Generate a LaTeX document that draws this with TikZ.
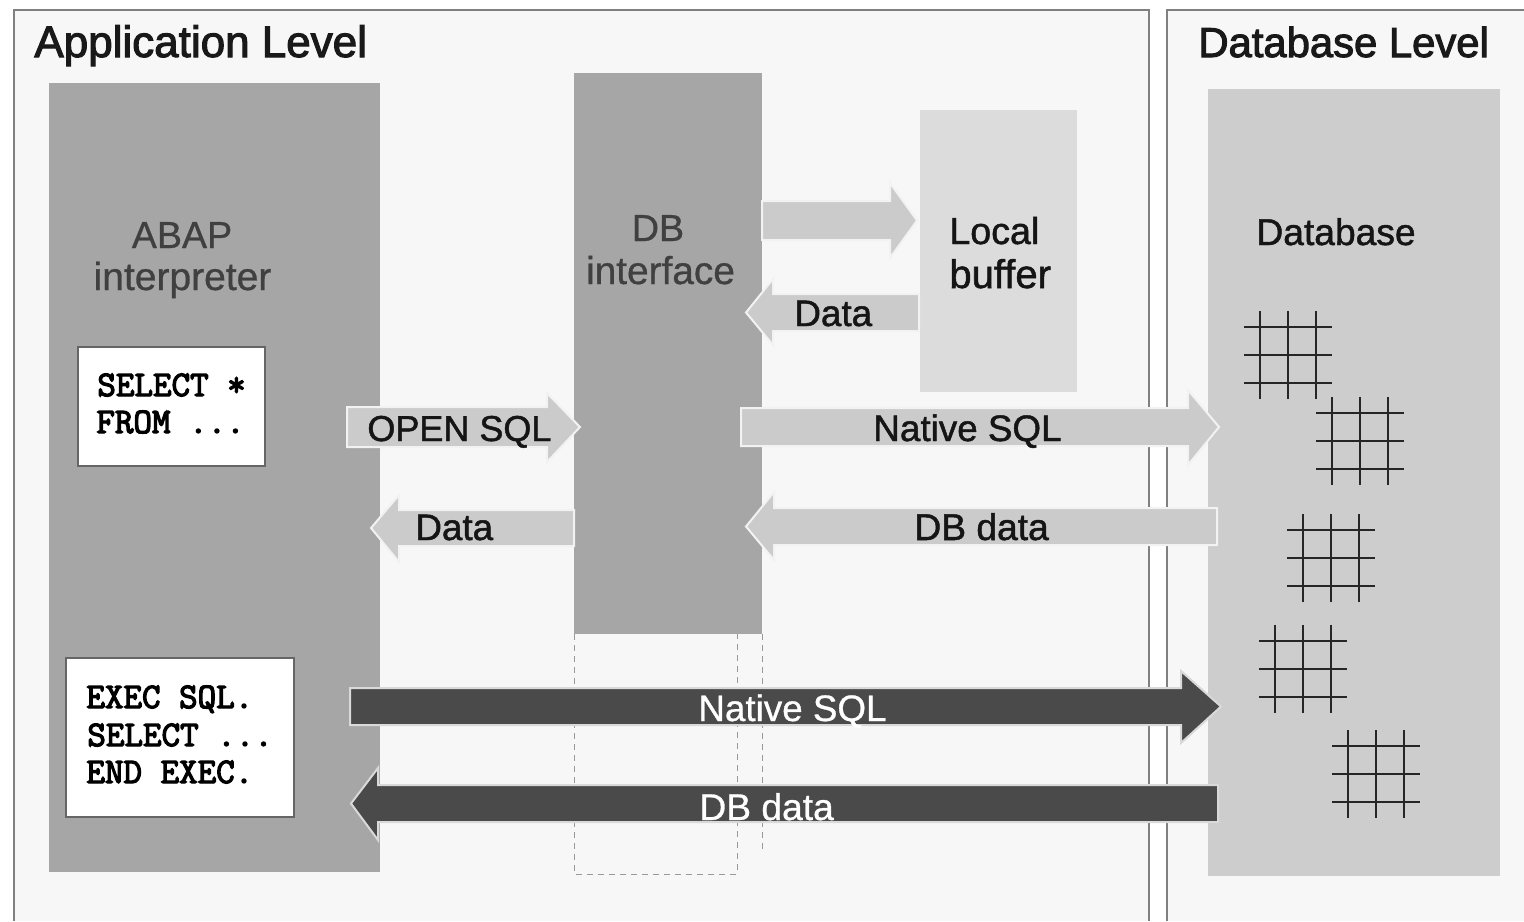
\documentclass[tikz,border=0pt]{standalone}
\usepackage{fontspec}
\setmainfont{Liberation Sans}
\newfontfamily\headfont[FakeBold=2.4]{Liberation Sans}
\newfontfamily\semifont[FakeBold=1.3]{Liberation Sans}
\newfontfamily\softfont[FakeBold=0.8]{Liberation Sans}
\newfontfamily\codefont[FakeBold=3.5]{Latin Modern Mono}
\definecolor{panelbg}{HTML}{F7F7F7}
\definecolor{panelline}{HTML}{808080}
\definecolor{midgrey}{HTML}{A6A6A6}
\definecolor{lightblock}{HTML}{DCDCDC}
\definecolor{dbgrey}{HTML}{CDCDCD}
\definecolor{arrowlight}{HTML}{CBCBCB}
\definecolor{arrowdark}{HTML}{4A4A4A}
\definecolor{softtext}{HTML}{404040}
\definecolor{darktext}{HTML}{151515}
\newcommand{\pxbox}[6]{\node[#2,minimum width={(#5-#3)*0.5pt},minimum height={(#6-#4)*0.5pt}] (#1) at ({(#3+#5)/2},{(#4+#6)/2}) {};}
% style; tail x; head base x; tip x; body top; body bottom; head top; head bottom
\newcommand{\blockarrow}[8]{\draw[#1] (#2,#5) -- (#3,#5) -- (#3,#7) -- (#4,{(#5+#6)/2}) -- (#3,#8) -- (#3,#6) -- (#2,#6) -- cycle;}
\newcommand{\fs}[1]{\fontsize{#1}{#1}\selectfont}
\tikzset{
  plainbox/.style={rectangle,inner sep=0pt,outer sep=0pt,draw=none},
  blockmid/.style={plainbox,fill=midgrey},
  blocklight/.style={plainbox,fill=lightblock},
  blockdb/.style={plainbox,fill=dbgrey},
  codebox/.style={plainbox,fill=white,draw=black!60,line width=1.2pt},
  lightarrow/.style={fill=arrowlight,draw=white!95!black,line width=1pt},
  darkarrow/.style={fill=arrowdark,draw=white!85!black,line width=1pt},
  panelframe/.style={draw=panelline,line width=0.8pt,fill=panelbg},
  headlabel/.style={anchor=base west,inner sep=0pt,font=\headfont,text=black!90},
  softlabel/.style={anchor=base,inner sep=0pt,font=\softfont,text=softtext},
  blocklabel/.style={anchor=base west,inner sep=0pt,font=\semifont,text=darktext},
  whitelabel/.style={anchor=base west,inner sep=0pt,font=\softfont,text=white},
  codelabel/.style={anchor=base west,inner sep=0pt,font=\codefont\fs{18},text=black},
  dashline/.style={draw=black!40,line width=0.5pt,dashed,dash pattern=on 3pt off 2.5pt},
  gridline/.style={draw=black!85,line width=1.15pt},
  tablegrid/.pic={
    \foreach \d in {-28,0,28} {
      \draw[gridline] (-44,\d) -- (44,\d);
      \draw[gridline] (\d,-44) -- (\d,44);
    }
  }
}
\begin{document}
\begin{tikzpicture}[x=0.5pt,y=-0.5pt]
\useasboundingbox (0,0) rectangle (1524,921);
\fill[white] (0,0) rectangle (1524,921);
% panels
\path[fill=panelbg] (14,10) rectangle (1149,921);
\path[fill=panelbg] (1167,10) rectangle (1524,921);
\draw[panelframe,fill=none] (14,921) -- (14,10) -- (1149,10) -- (1149,921);
\draw[panelframe,fill=none] (1167,921) -- (1167,10) -- (1524,10);
% blocks
\pxbox{abap}{blockmid}{49}{83}{380}{872}
\pxbox{dbif}{blockmid}{574}{73}{762}{634}
\pxbox{localbuf}{blocklight}{920}{110}{1077}{392}
\pxbox{database}{blockdb}{1208}{89}{1500}{876}
\pxbox{selectbox}{codebox}{78}{347}{265}{466}
\pxbox{execbox}{codebox}{66}{658}{294}{817}
% dashed extension of DB interface
\draw[dashline] (574,634) -- (574,874) -- (737,874) -- (737,634);
\draw[dashline] (762,634) -- (762,850);
% tables
\pic at (1288,355) {tablegrid};
\pic at (1360,441) {tablegrid};
\pic at (1331,558) {tablegrid};
\pic at (1303,669) {tablegrid};
\pic at (1376,774) {tablegrid};
% arrows
\blockarrow{lightarrow}{762}{890}{917}{201}{240}{183}{258}
\blockarrow{lightarrow}{919}{773}{746}{294}{331}{279}{345}
\blockarrow{lightarrow}{347}{547}{580}{407}{447}{393}{462}
\blockarrow{lightarrow}{574}{399}{371}{510}{546}{495}{562}
\blockarrow{lightarrow}{741}{1188}{1219}{408}{446}{390}{465}
\blockarrow{lightarrow}{1217}{774}{746}{508}{545}{492}{560}
\blockarrow{darkarrow}{350}{1181}{1221}{688}{725}{671}{743}
\blockarrow{darkarrow}{1218}{378}{351}{785}{822}{768}{840}
% headings
\node[headlabel] (applevel) at (34,57) {\fs{22}Application Level};
\node[headlabel] (dblevel) at (1198,57) {\fs{20.9}Database Level};
% block labels
\node[softlabel] (abaplabel) at (182,248) {\fs{18.8}ABAP};
\node[softlabel] (interplabel) at (182.5,290) {\fs{19.5}interpreter};
\node[softlabel] (dblabel) at (658,241) {\fs{18.8}DB};
\node[softlabel] (iflabel) at (660.5,284) {\fs{19.4}interface};
\node[blocklabel] (locallabel) at (949,244) {\fs{18.8}Local};
\node[blocklabel] (bufferlabel) at (949,288) {\fs{20}buffer};
\node[blocklabel] (databaselabel) at (1256,245) {\fs{18.6}Database};
% arrow labels
\node[blocklabel] (datatop) at (794,326) {\fs{18.4}Data};
\node[blocklabel] (opensql) at (367,441) {\fs{18}OPEN SQL};
\node[blocklabel] (nativelight) at (873,441) {\fs{18.4}Native SQL};
\node[blocklabel] (dataleft) at (415,540) {\fs{18.4}Data};
\node[blocklabel] (dbdatalight) at (914,540) {\fs{18.6}DB data};
\node[whitelabel] (nativedark) at (698,721) {\fs{18.4}Native SQL};
\node[whitelabel] (dbdatadark) at (699,820) {\fs{18.6}DB data};
% code
\node[codelabel] (codea) at (97,396) {SELECT *};
\node[codelabel] (codeb) at (96,433) {FROM ...};
\node[codelabel] (codec) at (86,708) {EXEC SQL.};
\node[codelabel] (coded) at (87,746) {SELECT ...};
\node[codelabel] (codee) at (86,783) {END EXEC.};
\end{tikzpicture}
\end{document}
